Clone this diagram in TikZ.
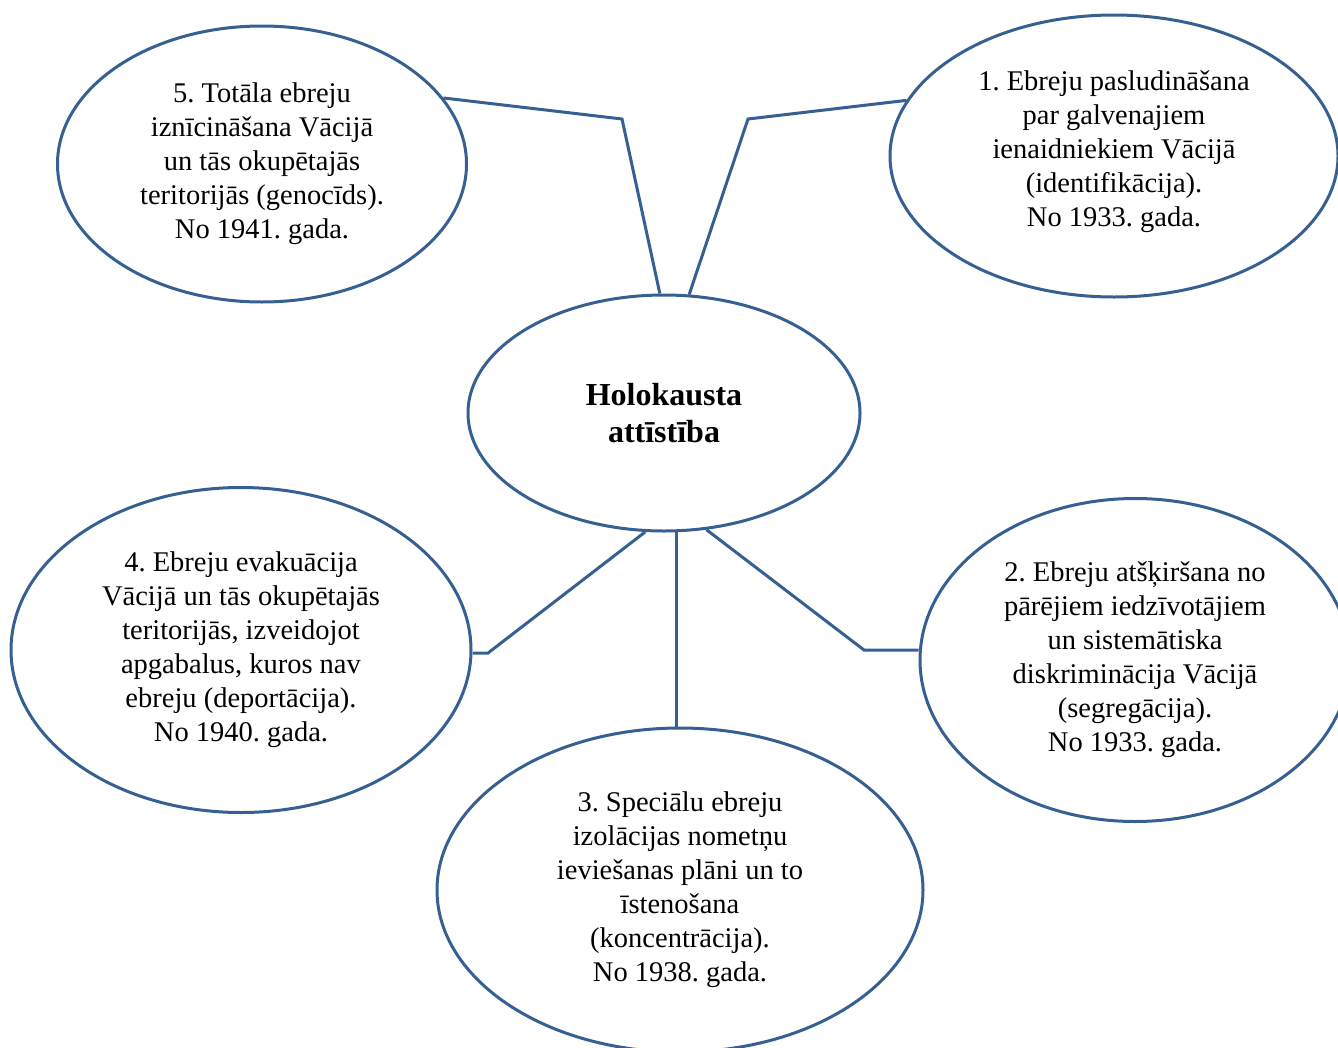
\documentclass[tikz,border=0pt]{standalone}
\usepackage{fontspec}
\setmainfont{Liberation Serif}
\usetikzlibrary{shapes.geometric}
\definecolor{lineblue}{RGB}{54,96,146}
\frenchspacing
\begin{document}
\begin{tikzpicture}[x=1pt,y=-1pt,
  bub/.style={ellipse,draw=lineblue,line width=3pt,inner sep=0pt,align=center,
    font=\fontsize{28.5}{34}\selectfont},
  conn/.style={draw=lineblue,line width=3pt}]
\useasboundingbox (0,0) rectangle (1338,1047);
\node[bub,minimum width=392pt,minimum height=236pt,font=\fontsize{32}{37}\selectfont\bfseries] (c) at (664,413)
  {Holokausta\\attīstība};
\node[bub,minimum width=409pt,minimum height=276pt] (e5) at (262,164)
  {5. Totāla ebreju\\iznīcināšana Vācijā\\un tās okupētajās\\teritorijās (genocīds).\\No 1941. gada.};
\node[bub,minimum width=448pt,minimum height=282pt] (e1) at (1114,156)
  {\raisebox{4pt}[\height][\depth]{\begin{tabular}{@{}c@{}}1. Ebreju pasludināšana\\par galvenajiem\\ienaidniekiem Vācijā\\(identifikācija).\\No 1933. gada.\end{tabular}}};
\node[bub,minimum width=460pt,minimum height=325pt] (e4) at (241,650)
  {4. Ebreju evakuācija\\Vācijā un tās okupētajās\\teritorijās, izveidojot\\apgabalus, kuros nav\\ebreju (deportācija).\\No 1940. gada.};
\node[bub,minimum width=430pt,minimum height=323pt] (e2) at (1135,660)
  {2. Ebreju atšķiršana no\\pārējiem iedzīvotājiem\\un sistemātiska\\diskriminācija Vācijā\\(segregācija).\\No 1933. gada.};
\node[bub,minimum width=486pt,minimum height=324pt] (e3) at (680,890)
  {3. Speciālu ebreju\\izolācijas nometņu\\ieviešanas plāni un to\\īstenošana\\(koncentrācija).\\No 1938. gada.};
\coordinate (b5) at (622,119);
\coordinate (b1) at (748,119);
\coordinate (b4) at (488,653);
\coordinate (b2) at (864,650);
\draw[conn] (e5.20.5) -- (b5) -- (c.92.4);
\draw[conn] (e1.165.2) -- (b1) -- (c.78.5);
\draw[conn] (c.261.8) -- (b4) -- (b4 -| e4.east);
\draw[conn] (c.290.2) -- (b2) -- (b2 -| e2.west);
\draw[conn] (c.276) -- (c.276 |- e3.north);
\end{tikzpicture}
\end{document}
